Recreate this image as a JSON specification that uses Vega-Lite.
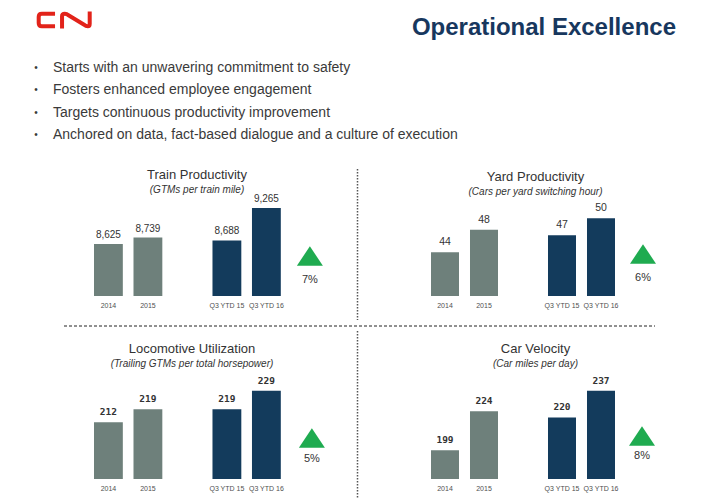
{
  "$schema": "https://vega.github.io/schema/vega-lite/v6.json",
  "padding": 0,
  "background": "white",
  "spacing": 0,
  "config": {
    "view": {"stroke": null},
    "text": {"font": "Liberation Sans"},
    "axis": {"labelFont": "Liberation Sans"},
    "title": {"font": "Liberation Sans", "fontSize": 13, "fontWeight": "normal", "color": "#333333", "subtitleFont": "Liberation Sans", "subtitleFontSize": 10, "subtitleFontStyle": "italic", "subtitleColor": "#333333", "subtitlePadding": 3, "anchor": "middle", "frame": "group"}
  },
  "datasets": {
    "bars": [
      {"metric": "Train Productivity", "period": "2014", "kind": "Annual", "value": 8625},
      {"metric": "Train Productivity", "period": "2015", "kind": "Annual", "value": 8739},
      {"metric": "Train Productivity", "period": "Q3 YTD 15", "kind": "YTD", "value": 8688},
      {"metric": "Train Productivity", "period": "Q3 YTD 16", "kind": "YTD", "value": 9265},
      {"metric": "Yard Productivity", "period": "2014", "kind": "Annual", "value": 44},
      {"metric": "Yard Productivity", "period": "2015", "kind": "Annual", "value": 48},
      {"metric": "Yard Productivity", "period": "Q3 YTD 15", "kind": "YTD", "value": 47},
      {"metric": "Yard Productivity", "period": "Q3 YTD 16", "kind": "YTD", "value": 50},
      {"metric": "Locomotive Utilization", "period": "2014", "kind": "Annual", "value": 212},
      {"metric": "Locomotive Utilization", "period": "2015", "kind": "Annual", "value": 219},
      {"metric": "Locomotive Utilization", "period": "Q3 YTD 15", "kind": "YTD", "value": 219},
      {"metric": "Locomotive Utilization", "period": "Q3 YTD 16", "kind": "YTD", "value": 229},
      {"metric": "Car Velocity", "period": "2014", "kind": "Annual", "value": 199},
      {"metric": "Car Velocity", "period": "2015", "kind": "Annual", "value": 224},
      {"metric": "Car Velocity", "period": "Q3 YTD 15", "kind": "YTD", "value": 220},
      {"metric": "Car Velocity", "period": "Q3 YTD 16", "kind": "YTD", "value": 237}
    ],
    "changes": [
      {"metric": "Train Productivity", "change": "7%"},
      {"metric": "Yard Productivity", "change": "6%"},
      {"metric": "Locomotive Utilization", "change": "5%"},
      {"metric": "Car Velocity", "change": "8%"}
    ],
    "bullets": [
      {"order": 1, "text": "Starts with an unwavering commitment to safety"},
      {"order": 2, "text": "Fosters enhanced employee engagement"},
      {"order": 3, "text": "Targets continuous productivity improvement"},
      {"order": 4, "text": "Anchored on data, fact-based dialogue and a culture of execution"}
    ]
  },
  "vconcat": [
    {
      "width": 710,
      "height": 168,
      "layer": [
        {
          "data": {"values": [{"logo": "CN"}]},
          "mark": {"type": "point", "shape": "M-0.32,-0.225L-0.79,-0.225Q-0.904,-0.225,-0.904,-0.11L-0.904,0.11Q-0.904,0.225,-0.79,0.225L-0.32,0.225M-0.07,0.3L-0.07,-0.13Q-0.07,-0.225,0.03,-0.225Q0.1,-0.225,0.16,-0.17L0.72,0.17Q0.78,0.225,0.85,0.225Q0.918,0.225,0.918,0.13L0.918,-0.3", "filled": false, "stroke": "#e2231a", "strokeWidth": 4, "opacity": 1, "size": 3136, "strokeJoin": "round"},
          "encoding": {"x": {"value": 64}, "y": {"value": 20}}
        },
        {
          "data": {"values": [{"title": "Operational Excellence"}]},
          "mark": {"type": "text", "align": "right", "baseline": "alphabetic", "fontSize": 24, "fontWeight": "bold", "color": "#17375e"},
          "encoding": {"x": {"value": 676}, "y": {"value": 35}, "text": {"field": "title"}}
        },
        {
          "data": {"name": "bullets"},
          "mark": {"type": "text", "align": "left", "baseline": "middle", "fontSize": 14, "color": "#3a3a3a"},
          "encoding": {
            "x": {"value": 53},
            "y": {"field": "order", "type": "ordinal", "axis": null, "scale": {"type": "point", "range": [68, 135], "padding": 0}},
            "text": {"field": "text"}
          }
        },
        {
          "data": {"name": "bullets"},
          "mark": {"type": "text", "align": "center", "baseline": "middle", "fontSize": 10, "color": "#3a3a3a", "text": "•"},
          "encoding": {
            "x": {"value": 36},
            "y": {"field": "order", "type": "ordinal", "axis": null}
          }
        }
      ]
    },
    {
      "spacing": 0,
      "hconcat": [
        {
          "width": 356,
          "height": 100,
          "title": {"text": "Train Productivity", "subtitle": "(GTMs per train mile)", "dx": 19, "offset": -1},
          "encoding": {
            "x": {"field": "period", "type": "nominal", "scale": {"domain": ["2014", "2015", "gap", "Q3 YTD 15", "Q3 YTD 16", "arrow"], "range": [94, 320.3], "paddingInner": 0.27, "paddingOuter": 0}, "axis": {"title": null, "domain": false, "ticks": false, "labelAngle": 0, "labelFontSize": 7, "labelColor": "#505050", "labelPadding": 5, "labelExpr": "datum.value == 'gap' || datum.value == 'arrow' ? '' : datum.value"}},
            "y": {"field": "value", "type": "quantitative", "scale": {"domain": [7700, 9478], "zero": false, "nice": false}, "axis": null}
          },
          "layer": [
            {
              "data": {"name": "bars"},
              "transform": [{"filter": "datum.metric === 'Train Productivity'"}],
              "mark": {"type": "bar", "clip": true},
              "encoding": {"color": {"field": "kind", "type": "nominal", "scale": {"domain": ["Annual", "YTD"], "range": ["#6e807b", "#133b5c"]}, "legend": null}}
            },
            {
              "data": {"name": "bars"},
              "transform": [{"filter": "datum.metric === 'Train Productivity'"}],
              "mark": {"type": "text", "baseline": "bottom", "dy": -4, "fontSize": 10, "color": "#333333"},
              "encoding": {"text": {"field": "value", "type": "quantitative", "format": ","}}
            },
            {
              "data": {"name": "changes"},
              "transform": [{"filter": "datum.metric === 'Train Productivity'"}],
              "mark": {"type": "point", "shape": "M-1,0.75L1,0.75L0,-0.75Z", "filled": true, "size": 676, "color": "#1fab50", "opacity": 1, "xOffset": 4},
              "encoding": {"x": {"datum": "arrow", "type": "nominal"}, "y": {"value": 60}}
            },
            {
              "data": {"name": "changes"},
              "transform": [{"filter": "datum.metric === 'Train Productivity'"}],
              "mark": {"type": "text", "baseline": "middle", "fontSize": 11, "color": "#333333", "xOffset": 4},
              "encoding": {"x": {"datum": "arrow", "type": "nominal"}, "y": {"value": 84}, "text": {"field": "change"}}
            }
          ]
        },
        {
          "width": 1,
          "height": 100,
          "data": {"values": [{"sep": "v"}]},
          "mark": {"type": "rule", "color": "#555555", "strokeWidth": 1.5, "strokeDash": [1.5, 1.5]},
          "encoding": {"x": {"value": 0.5}, "y": {"value": -27}, "y2": {"value": 124}}
        },
        {
          "width": 353,
          "height": 100,
          "title": {"text": "Yard Productivity", "subtitle": "(Cars per yard switching hour)", "dx": 0, "offset": -1},
          "encoding": {
            "x": {"field": "period", "type": "nominal", "scale": {"domain": ["2014", "2015", "gap", "Q3 YTD 15", "Q3 YTD 16", "arrow"], "range": [72, 295], "paddingInner": 0.282, "paddingOuter": 0}, "axis": {"title": null, "domain": false, "ticks": false, "labelAngle": 0, "labelFontSize": 7, "labelColor": "#505050", "labelPadding": 5, "labelExpr": "datum.value == 'gap' || datum.value == 'arrow' ? '' : datum.value"}},
            "y": {"field": "value", "type": "quantitative", "scale": {"domain": [36.3, 53.94], "zero": false, "nice": false}, "axis": null}
          },
          "layer": [
            {
              "data": {"name": "bars"},
              "transform": [{"filter": "datum.metric === 'Yard Productivity'"}],
              "mark": {"type": "bar", "clip": true},
              "encoding": {"color": {"field": "kind", "type": "nominal", "scale": {"domain": ["Annual", "YTD"], "range": ["#6e807b", "#133b5c"]}, "legend": null}}
            },
            {
              "data": {"name": "bars"},
              "transform": [{"filter": "datum.metric === 'Yard Productivity'"}],
              "mark": {"type": "text", "baseline": "bottom", "dy": -5, "fontSize": 10.5, "color": "#333333"},
              "encoding": {"text": {"field": "value", "type": "quantitative", "format": ","}}
            },
            {
              "data": {"name": "changes"},
              "transform": [{"filter": "datum.metric === 'Yard Productivity'"}],
              "mark": {"type": "point", "shape": "M-1,0.75L1,0.75L0,-0.75Z", "filled": true, "size": 676, "color": "#1fab50", "opacity": 1, "xOffset": 3},
              "encoding": {"x": {"datum": "arrow", "type": "nominal"}, "y": {"value": 58}}
            },
            {
              "data": {"name": "changes"},
              "transform": [{"filter": "datum.metric === 'Yard Productivity'"}],
              "mark": {"type": "text", "baseline": "middle", "fontSize": 11, "color": "#333333", "xOffset": 3},
              "encoding": {"x": {"datum": "arrow", "type": "nominal"}, "y": {"value": 82}, "text": {"field": "change"}}
            }
          ]
        }
      ]
    },
    {
      "width": 710,
      "height": 8.5,
      "data": {"values": [{"sep": "h"}]},
      "mark": {"type": "rule", "color": "#222222", "strokeWidth": 1, "strokeDash": [3, 2]},
      "encoding": {"x": {"value": 64}, "x2": {"value": 655}, "y": {"value": 5}}
    },
    {
      "spacing": 0,
      "hconcat": [
        {
          "width": 356,
          "height": 100,
          "title": {"text": "Locomotive Utilization", "subtitle": "(Trailing GTMs per total horsepower)", "dx": 14, "offset": 6.5},
          "encoding": {
            "x": {"field": "period", "type": "nominal", "scale": {"domain": ["2014", "2015", "gap", "Q3 YTD 15", "Q3 YTD 16", "arrow"], "range": [94, 320.3], "paddingInner": 0.27, "paddingOuter": 0}, "axis": {"title": null, "domain": false, "ticks": false, "labelAngle": 0, "labelFontSize": 7, "labelColor": "#505050", "labelPadding": 5, "labelExpr": "datum.value == 'gap' || datum.value == 'arrow' ? '' : datum.value"}},
            "y": {"field": "value", "type": "quantitative", "scale": {"domain": [181.25, 235.4], "zero": false, "nice": false}, "axis": null}
          },
          "layer": [
            {
              "data": {"name": "bars"},
              "transform": [{"filter": "datum.metric === 'Locomotive Utilization'"}],
              "mark": {"type": "bar", "clip": true},
              "encoding": {"color": {"field": "kind", "type": "nominal", "scale": {"domain": ["Annual", "YTD"], "range": ["#6e807b", "#133b5c"]}, "legend": null}}
            },
            {
              "data": {"name": "bars"},
              "transform": [{"filter": "datum.metric === 'Locomotive Utilization'"}],
              "mark": {"type": "text", "baseline": "bottom", "dy": -5, "fontSize": 9.5, "font": "DejaVu Sans Mono", "fontWeight": "bold", "color": "#333333"},
              "encoding": {"text": {"field": "value", "type": "quantitative", "format": ","}}
            },
            {
              "data": {"name": "changes"},
              "transform": [{"filter": "datum.metric === 'Locomotive Utilization'"}],
              "mark": {"type": "point", "shape": "M-1,0.75L1,0.75L0,-0.75Z", "filled": true, "size": 676, "color": "#1fab50", "opacity": 1, "xOffset": 6},
              "encoding": {"x": {"datum": "arrow", "type": "nominal"}, "y": {"value": 59}}
            },
            {
              "data": {"name": "changes"},
              "transform": [{"filter": "datum.metric === 'Locomotive Utilization'"}],
              "mark": {"type": "text", "baseline": "middle", "fontSize": 11, "color": "#333333", "xOffset": 6},
              "encoding": {"x": {"datum": "arrow", "type": "nominal"}, "y": {"value": 80}, "text": {"field": "change"}}
            }
          ]
        },
        {
          "width": 1,
          "height": 100,
          "data": {"values": [{"sep": "v"}]},
          "mark": {"type": "rule", "color": "#555555", "strokeWidth": 1.5, "strokeDash": [1.5, 1.5]},
          "encoding": {"x": {"value": 0.5}, "y": {"value": -48}, "y2": {"value": 118.5}}
        },
        {
          "width": 353,
          "height": 100,
          "title": {"text": "Car Velocity", "subtitle": "(Car miles per day)", "dx": 0, "offset": 6.5},
          "encoding": {
            "x": {"field": "period", "type": "nominal", "scale": {"domain": ["2014", "2015", "gap", "Q3 YTD 15", "Q3 YTD 16", "arrow"], "range": [72, 295], "paddingInner": 0.282, "paddingOuter": 0}, "axis": {"title": null, "domain": false, "ticks": false, "labelAngle": 0, "labelFontSize": 7, "labelColor": "#505050", "labelPadding": 5, "labelExpr": "datum.value == 'gap' || datum.value == 'arrow' ? '' : datum.value"}},
            "y": {"field": "value", "type": "quantitative", "scale": {"domain": [180.57, 244.57], "zero": false, "nice": false}, "axis": null}
          },
          "layer": [
            {
              "data": {"name": "bars"},
              "transform": [{"filter": "datum.metric === 'Car Velocity'"}],
              "mark": {"type": "bar", "clip": true},
              "encoding": {"color": {"field": "kind", "type": "nominal", "scale": {"domain": ["Annual", "YTD"], "range": ["#6e807b", "#133b5c"]}, "legend": null}}
            },
            {
              "data": {"name": "bars"},
              "transform": [{"filter": "datum.metric === 'Car Velocity'"}],
              "mark": {"type": "text", "baseline": "bottom", "dy": -5, "fontSize": 9.5, "font": "DejaVu Sans Mono", "fontWeight": "bold", "color": "#333333"},
              "encoding": {"text": {"field": "value", "type": "quantitative", "format": ","}}
            },
            {
              "data": {"name": "changes"},
              "transform": [{"filter": "datum.metric === 'Car Velocity'"}],
              "mark": {"type": "point", "shape": "M-1,0.75L1,0.75L0,-0.75Z", "filled": true, "size": 676, "color": "#1fab50", "opacity": 1, "xOffset": 2},
              "encoding": {"x": {"datum": "arrow", "type": "nominal"}, "y": {"value": 57}}
            },
            {
              "data": {"name": "changes"},
              "transform": [{"filter": "datum.metric === 'Car Velocity'"}],
              "mark": {"type": "text", "baseline": "middle", "fontSize": 11, "color": "#333333", "xOffset": 2},
              "encoding": {"x": {"datum": "arrow", "type": "nominal"}, "y": {"value": 77}, "text": {"field": "change"}}
            }
          ]
        }
      ]
    }
  ]
}
